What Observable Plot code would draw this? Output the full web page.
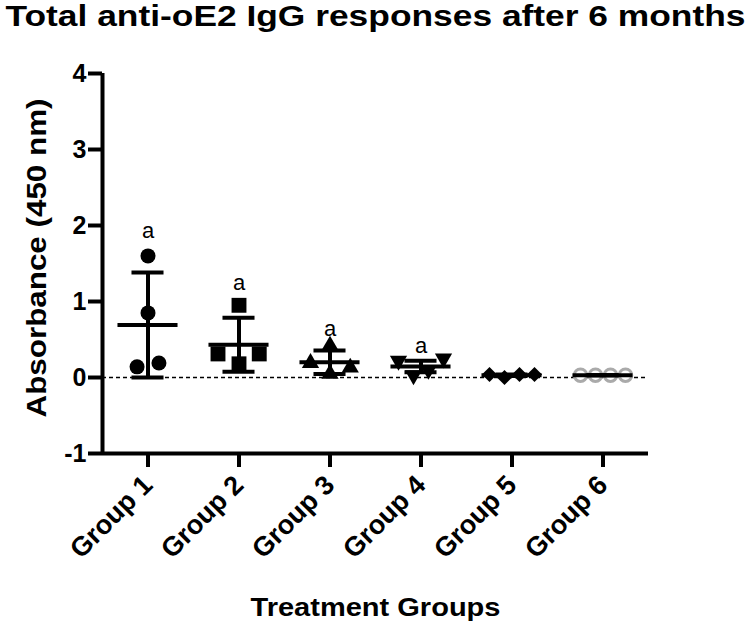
<!DOCTYPE html>
<html><head><meta charset="utf-8">
<script src="https://cdn.jsdelivr.net/npm/d3@7"></script>
<script src="https://cdn.jsdelivr.net/npm/@observablehq/plot@0.6"></script>
<style>
body{margin:0;background:#fff;}
svg{font-family:"Liberation Sans",Arial,sans-serif;}
svg [aria-label="x-axis tick label"] text, svg [aria-label="y-axis tick label"] text{font-weight:bold;}
</style></head><body><div id="chart"></div>
<script>
// ---- data ----
const groups = ["Group 1", "Group 2", "Group 3", "Group 4", "Group 5", "Group 6"];
const g1 = [1.6, 0.85, 0.14, 0.19];
const g2 = [0.95, 0.31, 0.31, 0.18];
const g3 = [0.42, 0.19, 0.13, 0.05];
const g4 = [0.22, 0.25, 0.1, 0.03];
const g5 = [0.04, 0.0, 0.04, 0.04];
const g6 = [0.03, 0.03, 0.03, 0.03];
// horizontal scatter slot of each point (in marker widths)
const spread1 = [0, 0, -0.73, 0.73];
const spread2 = [0, -1.4, 1.35, 0];
const spread3 = [0, -1.3, 1.35, 0];
const spread4 = [-1.5, 1.5, 0.5, -0.5];
const spread5 = [-1.5, -0.5, 0.5, 1.5];
const spread6 = [-1.5, -0.5, 0.5, 1.5];
const means = [0.69, 0.43, 0.2, 0.145, 0.03, 0.03];
const sds = [0.69, 0.355, 0.155, 0.075, 0.01, 0];
const letters = ["a", "a", "a", "a"];
const letterY = [1.93, 1.24, 0.64, 0.41];
const yTicks = [-1, 0, 1, 2, 3, 4];
const yTickLabels = ["-1", "0", "1", "2", "3", "4"];
const title = "Total anti-oE2 IgG responses after 6 months";
const yLabel = "Absorbance (450 nm)";
const xLabel = "Treatment Groups";

// ---- build tables ----
const values = [g1, g2, g3, g4, g5, g6];
const spreads = [spread1, spread2, spread3, spread4, spread5, spread6];
const slot = 15 / 91;
const points = values.flatMap((vs, i) => vs.map((v, j) => ({g: i + 1, value: v, x: i + 1 + spreads[i][j] * slot})));
const stats = groups.map((name, i) => ({g: i + 1, mean: means[i], sd: sds[i]}));
const letterData = letters.map((t, i) => ({g: i + 1, y: letterY[i], t}));

const triangleDown = {
  draw(context, size) {
    const y = -Math.sqrt(size / (Math.sqrt(3) * 3));
    context.moveTo(0, -2 * y);
    context.lineTo(-Math.sqrt(3) * y, y);
    context.lineTo(Math.sqrt(3) * y, y);
    context.closePath();
  }
};
const symbols = [
  {symbol: "circle", r: 7.5, fill: "black", stroke: "none", strokeWidth: 0},
  {symbol: "square", r: 8.4, fill: "black", stroke: "none", strokeWidth: 0},
  {symbol: "triangle", r: 6.4, fill: "black", stroke: "none", strokeWidth: 0},
  {symbol: triangleDown, r: 6.4, fill: "black", stroke: "none", strokeWidth: 0},
  {symbol: "diamond2", r: 6.8, fill: "black", stroke: "none", strokeWidth: 0},
  {symbol: "circle", r: 6.3, fill: "white", stroke: "#aaaaaa", strokeWidth: 3}
];
const dotMarks = symbols.map((s, i) => Plot.dot(points.filter(p => p.g === i + 1), {x: "x", y: "value", ...s}));

const chart = Plot.plot({
  width: 750,
  height: 627,
  marginTop: 73,
  marginBottom: 174,
  marginLeft: 102,
  marginRight: 102,
  x: {type: "linear", domain: [0.5, 6.5]},
  y: {domain: [-1, 4]},
  marks: [
    Plot.ruleY([0], {strokeDasharray: "4,3", strokeWidth: 1.3}),
    ...dotMarks,
    Plot.ruleX(stats, {x: "g", y1: d => d.mean - d.sd, y2: d => d.mean + d.sd, strokeWidth: 4}),
    Plot.ruleY(stats, {y: d => d.mean + d.sd, x1: d => d.g - 0.176, x2: d => d.g + 0.176, strokeWidth: 4}),
    Plot.ruleY(stats, {y: d => d.mean - d.sd, x1: d => d.g - 0.176, x2: d => d.g + 0.176, strokeWidth: 4}),
    Plot.ruleY(stats, {y: "mean", x1: d => d.g - 0.33, x2: d => d.g + 0.33, strokeWidth: 4}),
    Plot.text(letterData, {x: "g", y: "y", text: "t", fontSize: 22}),
    Plot.ruleX([0.5], {y1: -1, y2: 4, strokeWidth: 4}),
    Plot.ruleY([-1], {x1: 0.5, x2: 6.5, strokeWidth: 4}),
    Plot.axisY({ticks: yTicks, tickFormat: d => yTickLabels[yTicks.indexOf(d)], tickSize: 14, tickPadding: 2, fontSize: 25, strokeWidth: 4, label: null}),
    Plot.axisX({ticks: [1, 2, 3, 4, 5, 6], tickFormat: d => groups[d - 1], tickRotate: -45, tickSize: 14, tickPadding: 13, fontSize: 27, strokeWidth: 4, label: null}),
    Plot.text([title], {text: d => d, frameAnchor: "top", dy: -48, lineAnchor: "bottom", fontSize: 29, fontWeight: "bold"}),
    Plot.text([yLabel], {text: d => d, frameAnchor: "left", textAnchor: "middle", rotate: -90, dx: -65, dy: -5.5, fontSize: 28, fontWeight: "bold"}),
    Plot.text([xLabel], {text: d => d, frameAnchor: "bottom", dy: 162, lineAnchor: "bottom", fontSize: 26, fontWeight: "bold"})
  ]
});
document.getElementById("chart").appendChild(chart);
const svg = d3.select(chart);
const stretch = (str, len) => svg.selectAll("text").filter(function() { return this.textContent === str; })
  .attr("textLength", len).attr("lengthAdjust", "spacingAndGlyphs");
stretch(title, 740);
stretch(yLabel, 319);
stretch(xLabel, 250);
</script></body></html>
